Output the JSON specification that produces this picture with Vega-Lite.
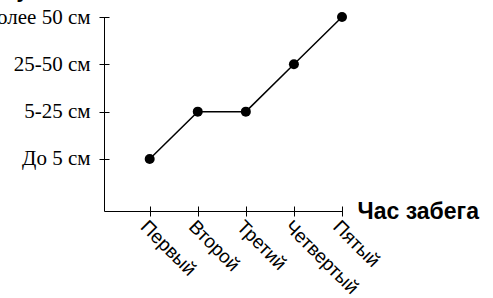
{
  "$schema": "https://vega.github.io/schema/vega-lite/v6.json",
  "autosize": "none",
  "width": 238,
  "height": 194,
  "padding": {"left": 104, "top": 17, "right": 151, "bottom": 87},
  "background": "white",
  "config": {"view": {"stroke": null}, "axis": {"grid": false, "domainColor": "black", "tickColor": "black", "labelColor": "black", "titleColor": "black"}},
  "data": {"values": [
    {"hour": 1, "hourName": "Первый", "level": 1, "levelName": "До 5 см"},
    {"hour": 2, "hourName": "Второй", "level": 2, "levelName": "5-25 см"},
    {"hour": 3, "hourName": "Третий", "level": 2, "levelName": "5-25 см"},
    {"hour": 4, "hourName": "Четвертый", "level": 3, "levelName": "25-50 см"},
    {"hour": 5, "hourName": "Пятый", "level": 4, "levelName": "Более 50 см"}
  ]},
  "layer": [
    {
      "mark": {"type": "line", "color": "black", "strokeWidth": 1.5},
      "encoding": {
        "x": {"field": "hour", "type": "quantitative", "scale": {"domain": [0.05, 5], "nice": false, "zero": false},
          "axis": {"orient": "bottom", "values": [1, 2, 3, 4, 5], "ticks": false, "tickSize": 0, "labelPadding": 6,
            "labelOverlap": false, "labelBound": false, "labelFlush": false,
            "labelExpr": "['Первый','Второй','Третий','Четвертый','Пятый'][datum.value-1]",
            "labelAngle": 45, "labelAlign": "left", "labelBaseline": "top", "labelFont": "Liberation Sans", "labelFontSize": 19,
            "title": "Час забега", "titleFont": "Liberation Sans", "titleFontSize": 23, "titleFontWeight": "bold",
            "titleX": 253, "titleY": 7, "titleAlign": "left", "titleBaseline": "alphabetic", "titleAngle": 0}},
        "y": {"field": "level", "type": "quantitative", "scale": {"domain": [-0.1, 4], "nice": false, "zero": false},
          "axis": {"orient": "left", "values": [1, 2, 3, 4], "ticks": false, "tickSize": 0, "labelPadding": 14,
            "labelOverlap": false, "labelBound": false, "labelFlush": false,
            "labelExpr": "['До 5 см','5-25 см','25-50 см','Более 50 см'][datum.value-1]",
            "labelFont": "Liberation Serif", "labelFontSize": 21, "labelBaseline": "middle",
            "title": "Глубина снега", "titleFont": "Liberation Sans", "titleFontSize": 21, "titleFontWeight": "bold",
            "titleAngle": 0, "titleX": -112, "titleY": -20, "titleAlign": "left", "titleBaseline": "alphabetic"}}
      }
    },
    {
      "mark": {"type": "point", "filled": true, "color": "black", "opacity": 1, "size": 100},
      "encoding": {
        "x": {"field": "hour", "type": "quantitative", "scale": {"domain": [0.05, 5], "nice": false, "zero": false},
          "axis": {"orient": "bottom", "values": [1, 2, 3, 4, 5], "domain": false, "labels": false, "tickSize": 10, "offset": -5, "title": null}},
        "y": {"field": "level", "type": "quantitative", "scale": {"domain": [-0.1, 4], "nice": false, "zero": false},
          "axis": {"orient": "left", "values": [1, 2, 3, 4], "domain": false, "labels": false, "tickSize": 10, "offset": -5, "title": null}}
      }
    }
  ],
  "resolve": {"axis": {"x": "independent", "y": "independent"}}
}
